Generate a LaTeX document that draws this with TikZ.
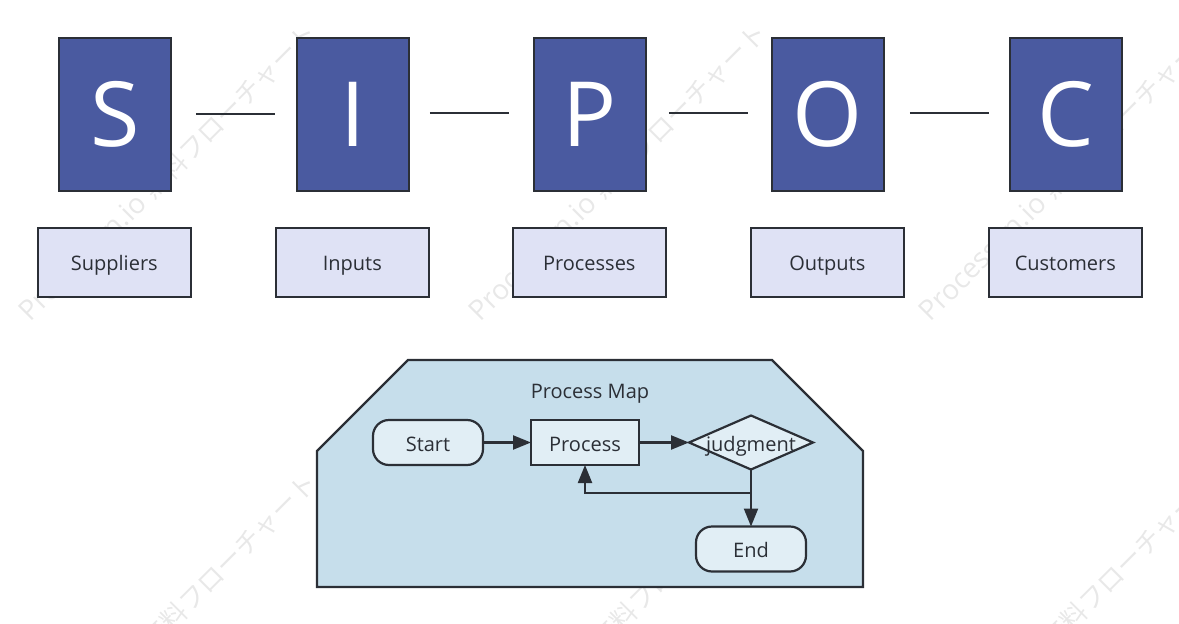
\documentclass[tikz,border=0pt]{standalone}
\usepackage{fontspec}
\setmainfont{Open Sans}
\newfontfamily\jpfont{Noto Sans CJK JP}
\usetikzlibrary{arrows.meta,backgrounds,positioning,shapes.geometric}

\definecolor{inkcol}{HTML}{2B2F36}
\definecolor{lettercol}{HTML}{4A5AA0}
\definecolor{namecol}{HTML}{DFE2F5}
\definecolor{mapcol}{HTML}{C6DEEB}
\definecolor{stepcol}{HTML}{E1EEF5}
\definecolor{markcol}{HTML}{E8E8E8}

\tikzset{
        every node/.style={outer sep=0pt, inner sep=0pt},
        smallfont/.style={text=inkcol, font=\fontsize{20}{24}\selectfont, text height=18pt, text depth=1pt},
        letterbox/.style={draw=inkcol, line width=2.2pt, fill=lettercol, text=white,
                minimum width=111.5pt, minimum height=152.5pt, font=\fontsize{90}{90}\selectfont},
        namebox/.style={smallfont, draw=inkcol, line width=2.2pt, fill=namecol,
                minimum width=153pt, minimum height=69pt, xshift=-.7pt},
        stepbox/.style={smallfont, draw=inkcol, line width=2.2pt, fill=stepcol,
                minimum width=108pt, minimum height=45pt},
        termbox/.style={stepbox, rounded corners=16pt, minimum width=110pt},
        decision/.style={draw=inkcol, line width=2.2pt, fill=stepcol, diamond,
                minimum width=124pt, minimum height=54pt},
        link/.style={draw=inkcol, line width=2.2pt},
        flow/.style={link, -{Triangle[length=18pt,width=14pt]}},
        wmark/.style={rotate=45, anchor=west, text=markcol,
                font=\fontsize{28}{28}\selectfont}
}

\begin{document}
\begin{tikzpicture}[x=1pt,y=-1pt,node distance=126.5pt]
        \useasboundingbox (0,0) rectangle (1179,624);

        % top row
        \node[letterbox] (S) at (115,114.5) {S};
        \node[letterbox] (I) [right=of S] {I};
        \node[letterbox] (P) [right=125.5pt of I] {P};
        \node[letterbox] (O) [right=of P] {O};
        \node[letterbox] (C) [right=of O] {C};

        \node[namebox] (suppliers) [below=37pt of S] {Suppliers};
        \node[namebox] (inputs) [below=37pt of I] {Inputs};
        \node[namebox] (processes) [below=37pt of P] {Processes};
        \node[namebox] (outputs) [below=37pt of O] {Outputs};
        \node[namebox] (customers) [below=37pt of C] {Customers};

        \coordinate[right=25pt of S, yshift=.5pt] (si a);
        \coordinate[left=22pt of I, yshift=.5pt] (si b);
        \coordinate[right=21pt of I, yshift=1.5pt] (ip a);
        \coordinate[left=25pt of P, yshift=1.5pt] (ip b);
        \coordinate[right=23pt of P, yshift=1.5pt] (po a);
        \coordinate[left=24pt of O, yshift=1.5pt] (po b);
        \coordinate[right=26pt of O, yshift=1.5pt] (oc a);
        \coordinate[left=21pt of C, yshift=1.5pt] (oc b);
        \draw[link] (si a) -- (si b);
        \draw[link] (ip a) -- (ip b);
        \draw[link] (po a) -- (po b);
        \draw[link] (oc a) -- (oc b);

        % process map
        \draw[draw=inkcol, line width=2.2pt, fill=mapcol] (317,451) -- (408,360) -- (772,360)
                -- (863,451) -- (863,587) -- (317,587) -- cycle;
        \node[smallfont] (map title) at (590,389.5) {Process Map};

        \node[termbox] (start) at (428,442.5) {Start};
        \node[stepbox] (process) [right=48pt of start] {Process};
        \node[decision, label={[smallfont]center:judgment}] (judgment) [right=50pt of process] {};
        \node[termbox] (end) [below=57pt of judgment.south] {End};

        \draw[flow] (start) -- (process);
        \draw[flow] (process) -- (judgment);
        \draw[flow] (judgment) -- (end);
        \draw[flow] (judgment.south) |- (585,493) -- (process.south -| 585,0);

        % faint marks behind everything
        \begin{scope}[on background layer]
                \clip (0,0) rectangle (1179,624);
                \foreach \col in {0,450,900} {
                        \foreach \row in {0,450} {
                                \node[wmark] at (24+\col,316+\row) {Processon.io {\jpfont\fontsize{26}{26}\selectfont 無料フローチャート}};
                        }
                }
        \end{scope}
\end{tikzpicture}
\end{document}
